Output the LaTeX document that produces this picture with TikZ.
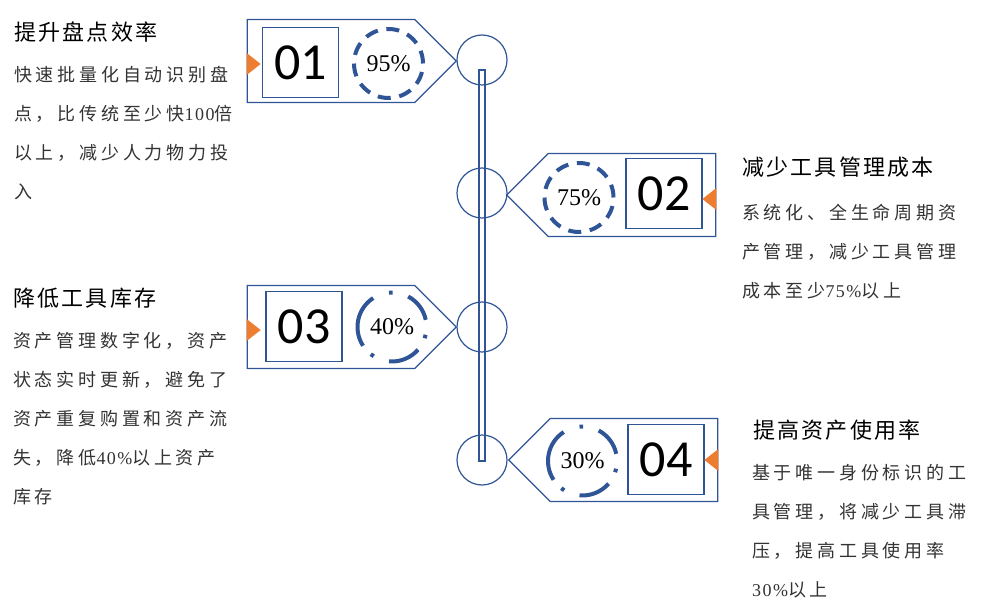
\documentclass[tikz,border=0pt]{standalone}
\usepackage{fontspec}
\setmainfont{Liberation Serif}
\newfontfamily\cjkbody[LetterSpace=21]{Noto Sans CJK SC}
\newfontfamily\cjkhead[LetterSpace=10]{Noto Sans CJK SC}
\newfontfamily\latinbody[LetterSpace=8]{Liberation Serif}
\newfontfamily\numfont{Carlito}
\usetikzlibrary{shapes.symbols, calc}
\definecolor{tagblue}{HTML}{2F5597}
\definecolor{tagorange}{HTML}{ED7D31}
\tikzset{
  tagbox/.style={signal, draw=tagblue, line width=1.2pt, minimum width=209pt, minimum height=83pt, inner sep=0pt},
  numbox/.style={draw=tagblue, line width=1.2pt, minimum width=76pt, minimum height=70pt, inner sep=0pt, font=\numfont\fontsize{52}{52}\selectfont},
  ring/.style={circle, draw=tagblue, line width=4pt, minimum size=69pt, inner sep=0pt, dash pattern=on 13pt off 8.68pt, font=\fontsize{24}{24}\selectfont},
  ringtext/.style={circle, minimum size=69pt, inner sep=0pt, outer sep=0pt, font=\fontsize{24}{24}\selectfont},
  ringarc/.style={draw=tagblue, line width=4pt},
  hub/.style={circle, draw=tagblue, line width=1.2pt, minimum size=50pt, inner sep=0pt},
  spine/.style={draw=tagblue, line width=1.2pt},
  tagmark/.style={fill=tagorange},
  headtext/.style={anchor=base west, inner sep=0pt, font=\cjkhead\fontsize{22}{22}\selectfont},
  % anchored at the baseline of the last line
  bodytext/.style={anchor=base west, inner sep=0pt, align=left, text=black!80, font=\cjkbody\fontsize{18}{39}\selectfont}
}

\begin{document}
\begin{tikzpicture}[x=1pt, y=1pt]
  \useasboundingbox (0,0) rectangle (1000,-612);

  % Timeline: four hubs on a hollow spine.
  \node[hub] at (482,-60) (hub1) {};
  \node[hub] at (482,-193) (hub2) {};
  \node[hub] at (482,-327) (hub3) {};
  \node[hub] at (482,-460) (hub4) {};
  \draw[spine] ($(hub1.center)+(-3,-10)$) rectangle ($(hub4.center)+(3,-1)$);

  % 01: tag points right into hub1
  \node[tagbox, signal to=east] at (331,-61) (tag1) {};
  \node[numbox] at (300.5,-62.5) (num1) {01};
  \node[ring] at (388.5,-63.5) (pct1) {95\%};
  \fill[tagmark] (tag1.west) ++(0,8) -- ++(14,-11) -- ++(-14,-11) -- cycle;

  % 02: tag points left into hub2
  \node[tagbox, signal to=west] at (632,-195) (tag2) {};
  \node[numbox] at (664,-193.5) (num2) {02};
  \node[ring] at (579,-197.5) (pct2) {75\%};
  \fill[tagmark] (tag2.east) ++(0,7) -- ++(-14,-11) -- ++(14,-11) -- cycle;

  % 03: partial ring with dots
  \node[tagbox, signal to=east] at (331,-327) (tag3) {};
  \node[numbox] at (304,-326.5) (num3) {03};
  \node[ringtext] at (392,-327) (pct3) {40\%};
  \draw[ringarc] (pct3.12) arc[start angle=12, end angle=62, radius=34.5]
    (pct3.123) arc[start angle=123, end angle=213, radius=34.5]
    (pct3.265) arc[start angle=265, end angle=319, radius=34.5]
    (pct3.89) arc[start angle=89, end angle=95, radius=34.5]
    (pct3.232) arc[start angle=232, end angle=238, radius=34.5]
    (pct3.341) arc[start angle=341, end angle=347, radius=34.5];
  \fill[tagmark] (tag3.west) ++(0,8) -- ++(14,-11) -- ++(-14,-11) -- cycle;

  % 04
  \node[tagbox, signal to=west] at (634,-460) (tag4) {};
  \node[numbox] at (666,-459.5) (num4) {04};
  \node[ringtext] at (582.5,-461) (pct4) {30\%};
  \draw[ringarc] (pct4.12) arc[start angle=12, end angle=62, radius=34.5]
    (pct4.123) arc[start angle=123, end angle=213, radius=34.5]
    (pct4.265) arc[start angle=265, end angle=319, radius=34.5]
    (pct4.89) arc[start angle=89, end angle=95, radius=34.5]
    (pct4.232) arc[start angle=232, end angle=238, radius=34.5]
    (pct4.341) arc[start angle=341, end angle=347, radius=34.5];
  \fill[tagmark] (tag4.east) ++(0,11) -- ++(-14,-11) -- ++(14,-11) -- cycle;

  % Descriptions
  \node[headtext] at (14,-41) (head1) {提升盘点效率};
  \node[bodytext] at (14,-199) (body1)
    {快速批量化自动识别盘\\点，比传统至少快{\latinbody 100}倍\\以上，减少人力物力投\\入};

  \node[headtext] at (742,-176) (head2) {减少工具管理成本};
  \node[bodytext] at (742,-297) (body2)
    {系统化、全生命周期资\\产管理，减少工具管理\\成本至少{\latinbody 75\%}以上};

  \node[headtext] at (13,-306) (head3) {降低工具库存};
  \node[bodytext] at (13,-503) (body3)
    {资产管理数字化，资产\\状态实时更新，避免了\\资产重复购置和资产流\\失，降低{\latinbody 40\%}以上资产\\库存};

  \node[headtext] at (753,-438) (head4) {提高资产使用率};
  \node[bodytext] at (752,-596) (body4)
    {基于唯一身份标识的工\\具管理，将减少工具滞\\压，提高工具使用率\\{\latinbody 30\%}以上};
\end{tikzpicture}
\end{document}
